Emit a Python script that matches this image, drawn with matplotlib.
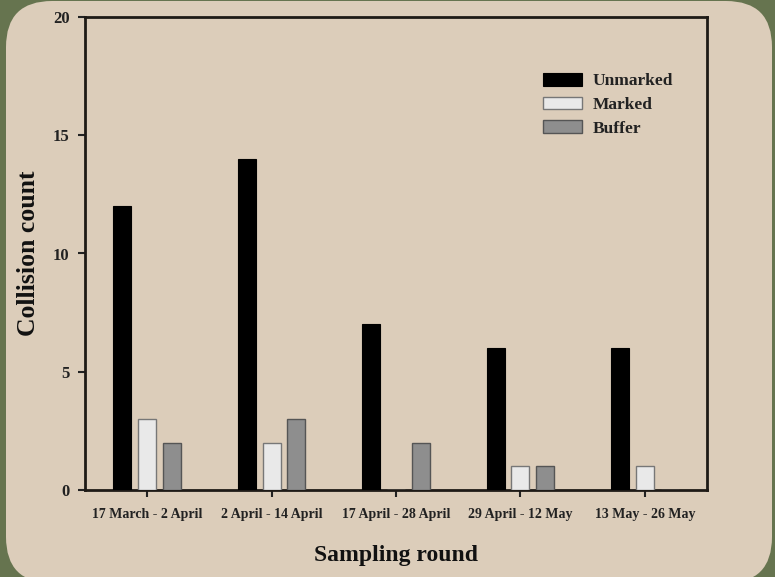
import matplotlib
matplotlib.use("Agg")
import matplotlib.pyplot as plt
import numpy as np
from matplotlib.patches import FancyBboxPatch
from matplotlib.transforms import IdentityTransform

categories = ["17 March - 2 April", "2 April - 14 April", "17 April - 28 April",
              "29 April - 12 May", "13 May - 26 May"]
unmarked = [12, 14, 7, 6, 6]
marked = [3, 2, 0, 1, 1]
buffer_ = [2, 3, 2, 1, 0]
series_names = ["Unmarked", "Marked", "Buffer"]

W, H = 775, 577
fig = plt.figure(figsize=(W / 100, H / 100), dpi=100)
fig.patch.set_facecolor("#66744f")

# beige rounded panel in pixel units (display coords, origin bottom-left)
panel = FancyBboxPatch((6, -6), 766, H + 5,
                       boxstyle="round,pad=0,rounding_size=46",
                       transform=IdentityTransform(), facecolor="#dccdba",
                       edgecolor="none", zorder=-10)
fig.patches.append(panel)

ax = fig.add_axes([85 / W, 1 - 490 / H, (707 - 85) / W, (490 - 17) / H])
ax.set_facecolor("none")
ax.set_zorder(5)

font = "Liberation Serif"
x = np.arange(len(categories))
bw = 0.145
off = 0.2
ax.bar(x - off, unmarked, bw, color="black", edgecolor="black", linewidth=0.8,
       label=series_names[0], zorder=3)
ax.bar(x, marked, bw, color="#e9e9e9", edgecolor="#777777", linewidth=1.0,
       label=series_names[1], zorder=3)
ax.bar(x + off, buffer_, bw, color="#8e8e8e", edgecolor="#555555", linewidth=1.0,
       label=series_names[2], zorder=3)

ax.set_xlim(-0.5, len(categories) - 0.5)
ax.set_ylim(0, 20)
ax.set_yticks([0, 5, 10, 15, 20])
ax.set_xticks(x)
ax.set_xticklabels(categories, fontfamily=font, fontweight="bold", fontsize=10,
                   color="#222222")
for lab in ax.get_yticklabels():
    lab.set_fontfamily(font)
    lab.set_fontweight("bold")
    lab.set_fontsize(12)
    lab.set_color("#222222")
ax.tick_params(axis="both", direction="out", length=5, width=1.5, colors="#222222",
               pad=6)
ax.tick_params(axis="x", pad=8)
for s in ax.spines.values():
    s.set_linewidth(2)
    s.set_color("#1e1a16")

ax.set_xlabel("Sampling round", fontfamily=font, fontweight="bold", fontsize=17,
              color="#111111", labelpad=17)
ax.set_ylabel("Collision count", fontfamily=font, fontweight="bold", fontsize=18.5,
              color="#111111", labelpad=9)

leg = ax.legend(loc="upper left", bbox_to_anchor=((543 - 85) / 622, (490 - 73) / 473),
                frameon=False, borderpad=0, borderaxespad=0,
                prop={"family": font, "weight": "bold", "size": 12.5},
                handlelength=2.25, handleheight=0.75, labelspacing=0.42,
                handletextpad=0.6)
for t in leg.get_texts():
    t.set_color("#222222")

fig.savefig("out.png", dpi=100, facecolor=fig.get_facecolor())
